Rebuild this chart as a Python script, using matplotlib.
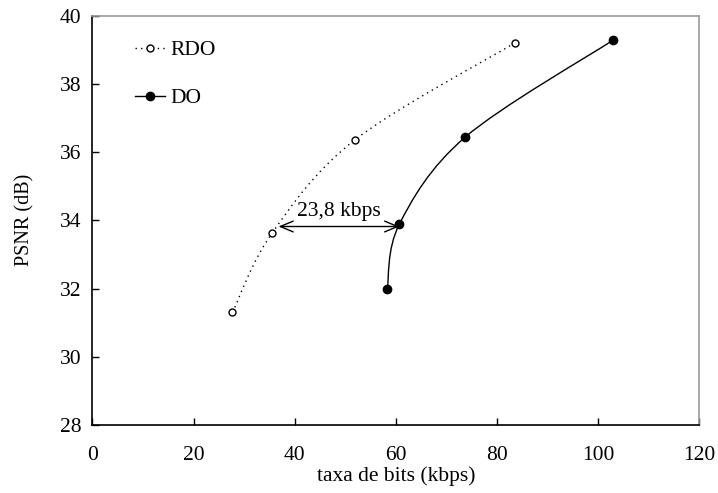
import numpy as np
import matplotlib
matplotlib.use('Agg')
import matplotlib.pyplot as plt
from matplotlib.path import Path
from matplotlib.patches import PathPatch

# 数据
rdo_x = [27.7, 35.5, 51.9, 83.6]
rdo_y = [31.30, 33.62, 36.36, 39.21]
do_x = [58.3, 60.7, 73.7, 103.0]
do_y = [31.98, 33.89, 36.44, 39.29]
x_ticks = [0, 20, 40, 60, 80, 100, 120]
y_ticks = [28, 30, 32, 34, 36, 38, 40]
gap_label = '23,8 kbps'


def smooth_path(xs, ys):
    # Excel 风格的平滑曲线 (Catmull-Rom -> Bezier)
    pts = np.column_stack([xs, ys])
    n = len(pts)
    verts = [pts[0]]
    codes = [Path.MOVETO]
    for i in range(n - 1):
        p0 = pts[i - 1] if i > 0 else pts[i]
        p1 = pts[i]
        p2 = pts[i + 1]
        p3 = pts[i + 2] if i + 2 < n else pts[i + 1]
        c1 = p1 + (p2 - p0) / 6
        c2 = p2 - (p3 - p1) / 6
        verts += [c1, c2, p2]
        codes += [Path.CURVE4] * 3
    return Path(verts, codes)


plt.rcParams['font.family'] = ['Liberation Serif', 'DejaVu Serif']
plt.rcParams['font.size'] = 15.5

fig = plt.figure(figsize=(7.18, 4.93), dpi=100)
ax = fig.add_axes([0.1286, 0.138, 0.974 - 0.1286, 0.968 - 0.138])

# 平滑曲线
ax.add_patch(PathPatch(smooth_path(rdo_x, rdo_y), fill=False, ec='black',
                       lw=1.0, ls=(0, (1, 3))))
ax.add_patch(PathPatch(smooth_path(do_x, do_y), fill=False, ec='black', lw=1.0))

# 数据点
ax.plot(rdo_x, rdo_y, ls='none', marker='o', ms=5, mfc='white', mec='black', mew=1.0)
ax.plot(do_x, do_y, ls='none', marker='o', ms=6, mfc='black', mec='black')

# 图例用的句柄
h1, = ax.plot([], [], ls=(0, (1, 3)), color='black', lw=1.0, marker='o', ms=5,
              mfc='white', mec='black', label='RDO')
h2, = ax.plot([], [], ls='-', color='black', lw=1.0, marker='o', ms=6,
              mfc='black', mec='black', label='DO')
ax.legend(handles=[h1, h2], loc='upper left', bbox_to_anchor=(0.07, 0.94),
          frameon=False, borderpad=0, borderaxespad=0, handlelength=1.4,
          handletextpad=0.25, labelspacing=1.3)

# 双向箭头
ax.annotate('', xy=(36.8, 33.82), xytext=(60.7, 33.82),
            arrowprops=dict(arrowstyle='<->,head_length=0.6,head_width=0.25',
                            color='black', lw=1.0, shrinkA=0, shrinkB=0))
ax.text(48.8, 34.26, gap_label, ha='center', va='center')

ax.set_xlim(0, 120)
ax.set_ylim(28, 40)
ax.set_xticks(x_ticks)
ax.set_yticks(y_ticks)
ax.tick_params(direction='in', length=5, width=1)
ax.tick_params(axis='x', pad=15)
ax.tick_params(axis='y', pad=8)
ax.set_xlabel('taxa de bits (kbps)', labelpad=1)
ax.set_ylabel('PSNR (dB)', labelpad=18, fontsize=14.5)

for s in ['left', 'bottom']:
    ax.spines[s].set_color('black')
    ax.spines[s].set_linewidth(1.2)
for s in ['top', 'right']:
    ax.spines[s].set_color('#999999')
    ax.spines[s].set_linewidth(1.2)

fig.savefig('out.png', dpi=100)
